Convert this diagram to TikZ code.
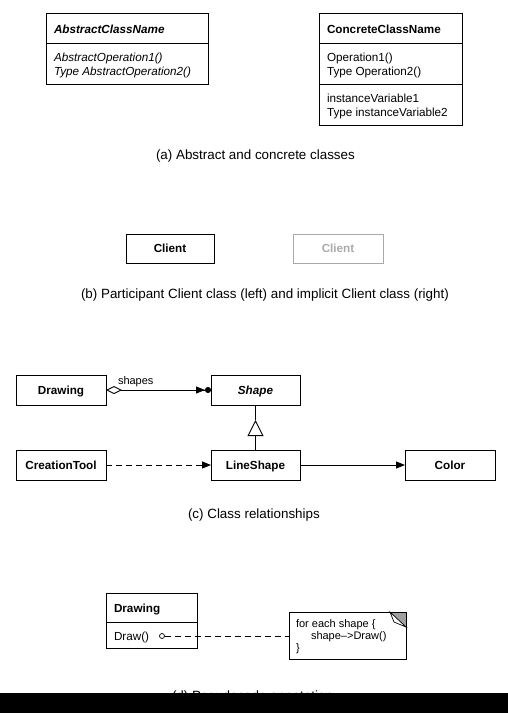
\documentclass[tikz,border=0pt]{standalone}
\usepackage{fontspec}
\setmainfont{Liberation Sans}
\usetikzlibrary{arrows.meta,shapes.geometric}
\definecolor{faint}{HTML}{AAAAAA}
\definecolor{foldgrey}{HTML}{A0A0A0}
\begin{document}
\begin{tikzpicture}[x=1pt,y=-1pt,line width=0.9pt,
  every node/.style={inner sep=0pt, outer sep=0pt},
  txt/.style={font=\fontsize{11.7}{14}\selectfont, anchor=base west},
  notetxt/.style={font=\fontsize{11}{13}\selectfont, anchor=base west},
  captext/.style={font=\fontsize{13.4}{15}\selectfont, anchor=base west},
  cls/.style={draw, anchor=north west, line width=0.9pt, font=\fontsize{11.7}{14}\selectfont, text height=8.4pt, text depth=0pt},
  tip/.style={-{Triangle[length=9pt,width=7pt]}},
  dashline/.style={dash pattern=on 6pt off 4pt}]
\useasboundingbox (0,0) rectangle (508,713);

% ---------- (a) ----------
\node[cls, minimum width=162pt, minimum height=71pt] (abs) at (46,13) {};
\draw ([yshift=-30pt]abs.north west) -- ([yshift=-30pt]abs.north east);
\node[txt] (absname) at (54,33) {\bfseries\itshape AbstractClassName};
\node[txt] (absop1) at (54,61) {\itshape AbstractOperation1()};
\node[txt] (absop2) at (54,75) {\itshape Type AbstractOperation2()};

\node[cls, minimum width=143pt, minimum height=112pt] (con) at (319,13) {};
\draw ([yshift=-30pt]con.north west) -- ([yshift=-30pt]con.north east);
\draw ([yshift=-71pt]con.north west) -- ([yshift=-71pt]con.north east);
\node[txt] (conname) at (327,33) {\bfseries ConcreteClassName};
\node[txt] (conop1) at (327,61) {Operation1()};
\node[txt] (conop2) at (327,75) {Type Operation2()};
\node[txt] (convar1) at (327,102) {instanceVariable1};
\node[txt] (convar2) at (327,116) {Type instanceVariable2};

\node[captext] (capa) at (156,159) {(a) Abstract and concrete classes};

% ---------- (b) ----------
\node[cls, minimum width=88pt, minimum height=29pt] (client) at (126,234) {\bfseries Client};
\node[cls, draw=faint, text=faint, minimum width=90pt, minimum height=29pt] (iclient) at (293,234) {\bfseries Client};
\node[captext] (capb) at (81,298.5) {(b) Participant Client class (left) and implicit Client class (right)};

% ---------- (c) ----------
\node[cls, minimum width=90pt, minimum height=30pt] (drawing) at (16,375) {\bfseries Drawing};
\node[cls, minimum width=89pt, minimum height=30pt] (shape) at (211,375) {\bfseries\itshape Shape};
\node[cls, minimum width=90pt, minimum height=30pt] (ctool) at (16,450) {\bfseries CreationTool};
\node[cls, minimum width=89pt, minimum height=30pt] (lshape) at (211,450) {\bfseries LineShape};
\node[cls, minimum width=90pt, minimum height=30pt] (color) at (405,450) {\bfseries Color};

\draw[{Diamond[open,length=16pt,width=8pt]}-{Triangle[length=9pt,width=7pt,sep=0pt]Circle[length=6pt,width=6pt,sep=0pt]}] (drawing.east) -- (shape.west);
\node[notetxt] (shapeslbl) at (118,384) {shapes};

\coordinate (apex) at (255.5,420);
\draw[-{Triangle[open,length=16pt,width=16pt]}] (lshape.north) -- (apex);
\draw (apex) -- (shape.south);

\draw[dashline, tip] (ctool.east) -- (lshape.west);
\draw[tip] (lshape.east) -- (color.west);

\node[captext] (capc) at (188,518) {(c) Class relationships};

% ---------- (d) ----------
\node[cls, minimum width=91pt, minimum height=55pt] (drawing2) at (106,593) {};
\draw ([yshift=-29pt]drawing2.north west) -- ([yshift=-29pt]drawing2.north east);
\node[txt] (d2name) at (114,612) {\bfseries Drawing};
\node[txt] (d2op) at (114,640) {Draw()};
\node[circle, draw, minimum size=5pt, line width=0.7pt] (odot) at (162,636) {};

\node[draw, anchor=north west, minimum width=117pt, minimum height=47pt] (note) at (289,612) {};
\fill[foldgrey] (390,612) -- (406,612) -- (406,627) -- cycle;
\draw[line width=0.7pt, fill=white] (390,612) -- (394,622) -- (406,627) -- cycle;
\draw (note.north west) rectangle (note.south east);
\node[notetxt] (n1) at (296,627) {for each shape \{};
\node[notetxt] (n2) at (311,639) {shape-->Draw()};
\node[notetxt] (n3) at (296,651) {\}};
\draw[dashline] (odot.east) -- (odot.east -| note.west);

\node[captext] (capd) at (172,700.5) {(d) Pseudocode annotation};
\fill[black] (0,692.5) rectangle (508,713);
\end{tikzpicture}
\end{document}
